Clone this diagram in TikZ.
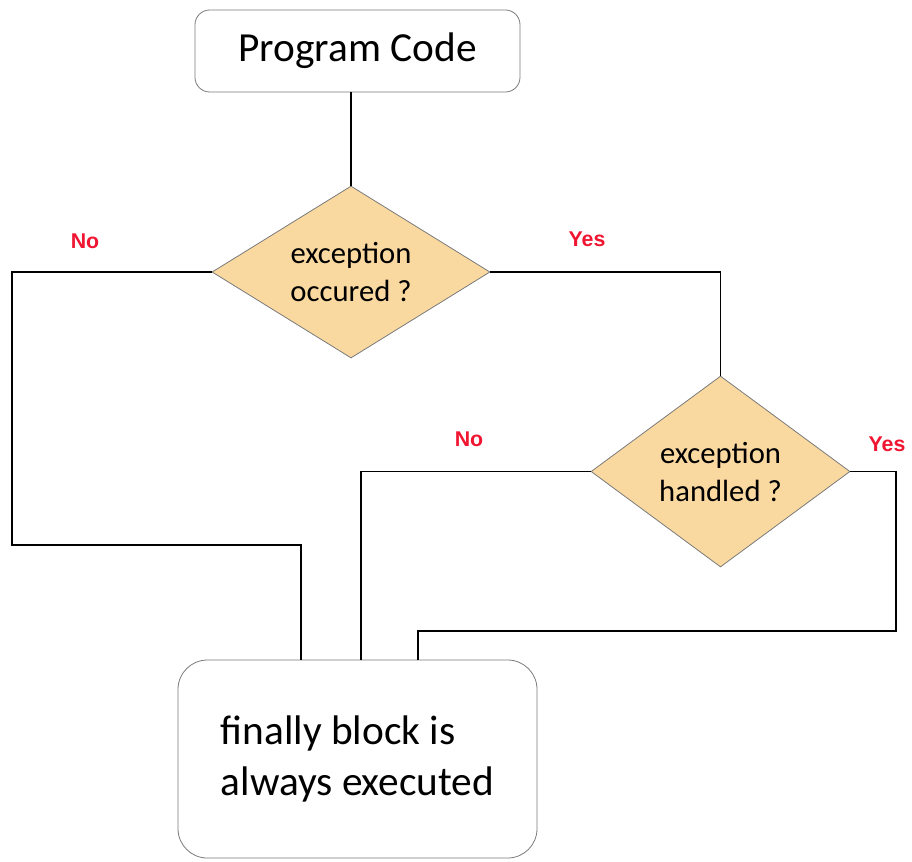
\documentclass[tikz,border=0pt]{standalone}
\usepackage{fontspec}
\setmainfont{Carlito}
\newfontfamily\labelfont{Liberation Sans}
\usetikzlibrary{shapes.geometric}
\definecolor{decision}{HTML}{FAD9A1}
\definecolor{edgegray}{HTML}{7A7A7A}
\definecolor{answer}{HTML}{F01530}

\begin{document}
\begin{tikzpicture}[x=0.75pt,y=-0.75pt,
  box/.style={draw=edgegray,line width=0.6pt},
  decide/.style={diamond,draw=edgegray,line width=0.6pt,fill=decision,inner sep=0pt,aspect=1.6,align=center,font=\fontsize{23}{28.5}\selectfont},
  conn/.style={line width=1.1pt},
  answer/.style={text=answer,font=\labelfont\bfseries\fontsize{16}{19}\selectfont}]
\useasboundingbox (0,0) rectangle (912,861);

% boxes
\node[box,rounded corners=11pt,minimum width=243.75pt,minimum height=61.5pt,font=\fontsize{31}{38}\selectfont] (code) at (357.5,51) {Program Code};
\node[box,rounded corners=22pt,minimum width=269.25pt,minimum height=148.5pt,align=left,font=\fontsize{31}{38}\selectfont] (fin) at (357.5,759) {finally block is\\always executed};

% decisions
\node[decide,minimum width=208.5pt,minimum height=129pt] (occ) at (351,272) {exception\\occured ?};
\node[decide,minimum width=194.25pt,minimum height=143.25pt] (hand) at (720.5,471.5) {exception\\handled ?};

% answers
\node[answer] (occNo) at (85,241) {No};
\node[answer] (occYes) at (587,239) {Yes};
\node[answer] (handNo) at (469,439) {No};
\node[answer] (handYes) at (887,444) {Yes};

% turning points
\coordinate (noJoin) at (12,545);
\coordinate (noEntry) at (301,0);
\coordinate (handNoEntry) at (361,0);
\coordinate (yesJoin) at (896,631);
\coordinate (yesEntry) at (418,0);

% connectors
\draw[conn] (code.south -| occ.north) -- (occ.north);
\draw[conn] (occ.west) -| (noJoin) -| (fin.north -| noEntry);
\draw[conn] (occ.east) -| (hand.north);
\draw[conn] (hand.west) -| (fin.north -| handNoEntry);
\draw[conn] (hand.east) -| (yesJoin) -| (fin.north -| yesEntry);
\end{tikzpicture}
\end{document}
